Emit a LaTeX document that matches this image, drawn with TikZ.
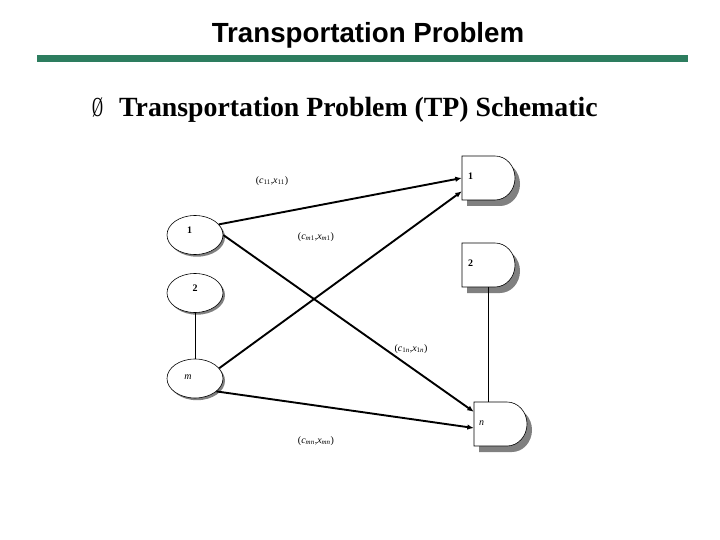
\documentclass[tikz,border=0pt]{standalone}
\usepackage{fontspec}
\setmainfont{Liberation Serif}
\newfontfamily\titlefont{Liberation Sans}
\usetikzlibrary{arrows.meta,calc,shapes.geometric}
\definecolor{bargreen}{RGB}{45,125,95}
\definecolor{shadowgray}{RGB}{128,128,128}
\tikzset{
  source/.style={ellipse,draw,line width=0.6bp,fill=white,minimum width=56bp,minimum height=39bp,inner sep=0pt,
    font=\fontsize{10}{11}\selectfont\bfseries,
    preaction={fill=shadowgray,transform canvas={xshift=2bp,yshift=-2.2bp}}},
  dest/.style={rectangle,minimum width=53bp,minimum height=44bp,inner sep=0pt,
    font=\fontsize{10}{11}\selectfont\bfseries},
  dshape/.pic={
    \fill[shadowgray] (5,6) -- (38,6) arc[start angle=90,end angle=-90,x radius=20bp,y radius=22bp] -- (5,50) -- cycle;
    \draw[line width=0.6bp,fill=white] (0,0) -- (33,0) arc[start angle=90,end angle=-90,x radius=20bp,y radius=22bp] -- (0,44) -- cycle;
  },
  flow/.style={line width=1.9bp,-{Latex[length=6.5bp,width=5.5bp]}},
  link/.style={line width=0.7bp},
  flowlbl/.style={font=\fontsize{10}{11}\selectfont,inner sep=0pt}
}
\begin{document}
\begin{tikzpicture}[x=1bp,y=-1bp]
\useasboundingbox (0,0) rectangle (720,540);
% title
\node[font=\titlefont\fontsize{27.8}{30}\selectfont\bfseries,anchor=base] (title) at (368,43) {Transportation Problem};
\fill[bargreen] (37,55) rectangle (688,62);
\node[font=\fontsize{27.7}{30}\selectfont,anchor=base west,inner sep=0pt] (bullet) at (92,117) {\scalebox{0.55}[1]{Ø}};
\node[font=\fontsize{27.9}{30}\selectfont\bfseries,anchor=base west,inner sep=0pt] (sub) at (119,117) {Transportation Problem (TP) Schematic};
% destination shapes
\pic at (462,156) {dshape};
\pic at (462,243) {dshape};
\pic at (474,402) {dshape};
\node[dest] (d1) at (488.5,178) {\makebox[53bp][l]{\hspace*{6bp}\raisebox{3bp}{1}}};
\node[dest] (d2) at (488.5,265) {\makebox[53bp][l]{\hspace*{6bp}\raisebox{3bp}{2}}};
\node[dest] (dn) at (500.5,424) {\makebox[53bp][l]{\hspace*{5bp}\raisebox{2bp}{\mdseries\itshape n}}};
% sources
\node[source] (s1) at (195,235) {\hspace*{-11bp}\raisebox{10bp}{1}};
\node[source] (s2) at (195,293) {\raisebox{9bp}{2}};
\node[source] (sm) at (195,378.5) {\hspace*{-14bp}\raisebox{2bp}{\mdseries\itshape m}};
% links
\draw[link] (s2.south) -- (sm.north);
\draw[link] (d2.south) -- (d2.south |- dn.north);
% flows
\draw[flow] (s1.24) -- (d1.west);
\draw[flow] (s1.east) -- ($(dn.north west)!0.45!(dn.west)$);
\draw[flow] (sm.23) -- ($(d1.west)!0.6!(d1.south west)$);
\draw[flow] (sm.-31) -- ($(dn.west)!0.18!(dn.south west)$);
% labels
\node[flowlbl] (l11) at (272,181) {(\textit{c}\textsubscript{11},\textit{x}\textsubscript{11})};
\node[flowlbl] (lm1) at (316,237) {(\textit{c}\textsubscript{\textit{m}1},\textit{x}\textsubscript{\textit{m}1})};
\node[flowlbl] (l1n) at (411,349) {(\textit{c}\textsubscript{1\textit{n}},\textit{x}\textsubscript{1\textit{n}})};
\node[flowlbl] (lmn) at (316,441) {(\textit{c}\textsubscript{\textit{mn}},\textit{x}\textsubscript{\textit{mn}})};
\end{tikzpicture}
\end{document}
